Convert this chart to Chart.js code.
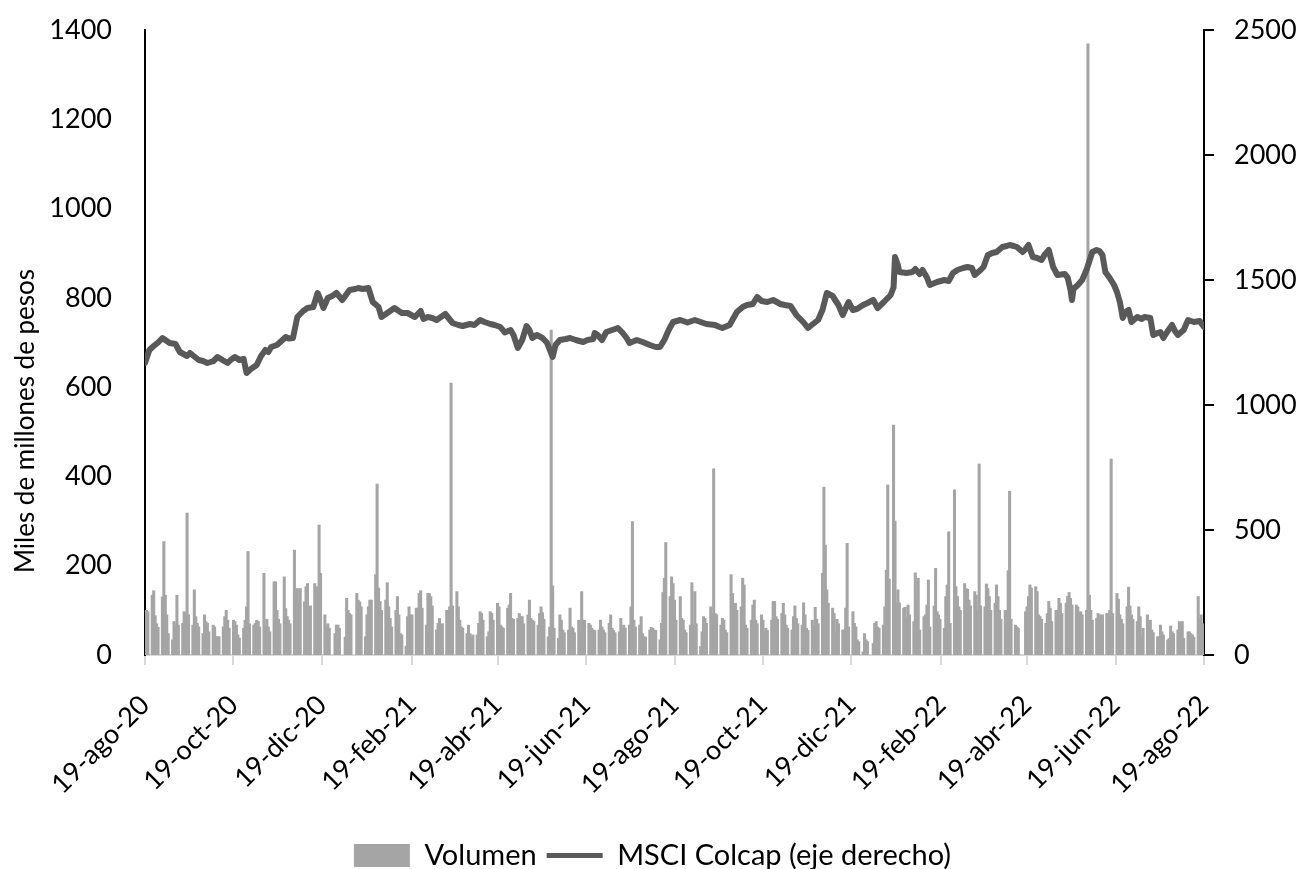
<!DOCTYPE html>
<html lang="es">
<head>
<meta charset="utf-8">
<title>Volumen y MSCI Colcap</title>
<script src="https://cdn.jsdelivr.net/npm/chart.js@4.4.1/dist/chart.umd.min.js"></script>
<style>
  html, body { margin: 0; padding: 0; background: #fff; }
  #wrap { width: 1305px; height: 869px; }
</style>
</head>
<body>
<div id="wrap"><canvas id="chart" width="1305" height="869"></canvas></div>
<script>
// Dates: day offsets counted from 19-ago-20
const startDate = new Date(2020, 7, 19);
const tickDays = [0, 61, 122, 184, 243, 304, 365, 426, 487, 549, 608, 669, 730];
const tickLabels = ['19-ago-20', '19-oct-20', '19-dic-20', '19-feb-21', '19-abr-21', '19-jun-21',
  '19-ago-21', '19-oct-21', '19-dic-21', '19-feb-22', '19-abr-22', '19-jun-22', '19-ago-22'];

// Volumen (miles de millones de pesos), one value per weekday, null = no trading
const volumen = [
  95, 100, 97,
  134, 144, 88, 70, 62,   130, 254, 134, 90, 48,   34, 75, 67, 134, 67,   71, 97, 93, 318, 90,
  67, 146, 86, 71, 63,    48, 90, 75, 71, 52,      67, 63, 41, 41, 41,    63, 86, 100, 78, 60,
  78, 75, 67, 45, 38,     60, 78, 108, 232, 70,    67, 71, 78, 75, 63,    183, 63, 80, 63, 52,
  164, 164, 100, 80, 70,  175, 104, 86, 78, 70,    235, 127, 149, 116, 149, 119, 153, 160, 93, 110,
  160, 149, 153, 291, 183, 90, 63, 70, 60, null,   48, 67, 67, 60, null,   40, 127, 100, 93, 90,
  null, 138, 123, 119, 108, 41, 90, 108, 123, 123, 180, 383, 150, 120, 100, 123, 162, 108, 82, 63,
  100, 131, 90, 48, 45,   20, 86, 108, 90, 90,     105, 105, 138, 144, 105, 67, 138, 138, 131, 110,
  56, 71, 82, 56, 70,     100, 100, 108, 609, 110, 142, 108, 78, 63, 60,  48, 67, 48, 40, 45,
  45, 71, 97, 93, 78,     41, 52, 97, 93, 78,      116, 108, 67, 63, 60,  105, 112, 138, 82, 80,
  82, 93, 86, 86, 70,     90, 123, 82, 78, 75,     67, 93, 108, 95, 80,   41, 63, 728, 155, 60,
  37, 90, 78, 56, 50,     56, 105, 63, 60, 50,     78, 52, 142, 75, 78,   71, 67, 60, 56, 55,
  56, 78, 63, 56, 50,     71, 90, 60, 55, 50,      52, 82, 56, 67, 60,    67, 108, 299, 78, 63,
  67, 86, 48, 41, 40,     56, 62, 60, 56, 55,      34, 71, 140, 172, 252, 131, 175, 160, 123, 78,
  131, 82, 78, 56, 50,    67, 162, 67, 142, 70,    19, 52, 86, 82, 71,    108, 93, 417, 93, 90,
  67, 82, 78, 56, 50,     180, 138, 86, 116, 100,  108, 172, 157, 67, 60, 78, 112, 123, 78, 70,
  90, 78, 52, 60, 55,     78, 120, 120, 86, 80,    93, 116, 90, 67, 60,   56, 86, 110, 82, 70,
  67, 117, 90, 60, 55,    78, 60, 107, 80, 70,     183, 376, 246, 146, 116, 105, 93, 52, 80, 70,
  56, 56, 105, 250, 63,   97, 71, 63, 34, 30,      7, 48, 34, 30, null,   26, 71, 75, 63, 60,
  67, 108, 190, 381, 170, 515, 300, 117, 146, 117, 105, 107, 84, 112, 90, 75, 184, 123, 172, 56,
  86, 90, 112, 168, 63,   110, 194, 97, 90, 80,    60, 131, 157, 276, 71, 370, 153, 131, 108, 100,
  160, 149, 147, 123, 110, 142, 134, 100, 428, 110, 108, 159, 149, 131, 100, 116, 157, 131, 100, 80,
  100, 100, 189, 367, 80, 67, 63, 60, null, null,  97, 108, 131, 157, 150, 153, 142, 90, 86, 80,
  71, 93, 120, 105, 75,   100, 100, 127, 116, 93,  116, 131, 140, 127, 112, 112, 108, 93, 97, 90,
  100, 1369, 134, 100, 78, 82, 93, 90, 75, 90,     93, 93, 100, 439, 93,  138, 125, 90, 80, 70,
  108, 152, 110, 90, 80,  75, 108, 86, 41, 60,     90, 67, 78, 56, 50,    41, 41, 67, 52, 45,
  34, 37, 65, 52, 48,     56, 75, 72, 75, 37,      52, 52, 48, 45, 40,    131, 82, 90, 70, 60
];

// MSCI Colcap (eje derecho), read at these day offsets
const colcapDays = [
  0, 3, 6, 9, 12, 17, 21, 24, 29, 31, 37, 40, 43, 47, 50, 54, 57, 59, 62, 65,
  68, 70, 73, 77, 80, 83, 85, 87, 91, 94, 97, 99, 102, 105, 109, 112, 116, 119, 121, 123,
  126, 129, 132, 136, 141, 145, 147, 150, 154, 157, 161, 163, 167, 172, 177, 181, 186, 190, 192, 195,
  198, 201, 204, 207, 212, 216, 219, 224, 227, 231, 234, 238, 241, 245, 248, 252, 254, 257, 260, 263,
  265, 267, 270, 274, 277, 281, 283, 286, 290, 293, 297, 302, 305, 309, 310, 312, 315, 318, 322, 326,
  329, 332, 334, 339, 343, 348, 352, 355, 358, 361, 364, 369, 374, 379, 383, 387, 393, 396, 398, 403,
  408, 412, 415, 419, 422, 425, 429, 433, 438, 441, 445, 449, 454, 457, 460, 464, 467, 470, 474, 478,
  481, 485, 488, 491, 495, 498, 502, 505, 509, 514, 516, 517, 519, 520, 525, 529, 531, 534, 536, 539,
  541, 546, 551, 554, 557, 560, 564, 567, 570, 572, 576, 578, 581, 584, 587, 591, 594, 596, 599, 601,
  605, 607, 609, 612, 615, 618, 620, 623, 626, 629, 634, 636, 638, 639, 640, 643, 646, 649, 653, 656,
  658, 660, 662, 665, 668, 670, 672, 674, 676, 678, 680, 684, 687, 689, 693, 695, 698, 700, 702, 705,
  708, 710, 712, 716, 719, 723, 727, 730
];
const colcapValues = [
  1168, 1220, 1236, 1250, 1268, 1248, 1244, 1212, 1196, 1208, 1180, 1176, 1168, 1175, 1192, 1178, 1168, 1180, 1192, 1180,
  1184, 1128, 1144, 1160, 1196, 1220, 1212, 1232, 1240, 1256, 1272, 1266, 1268, 1352, 1376, 1388, 1392, 1448, 1420, 1388,
  1428, 1436, 1448, 1420, 1460, 1464, 1468, 1464, 1468, 1412, 1392, 1352, 1368, 1388, 1368, 1368, 1352, 1376, 1344, 1352,
  1348, 1340, 1352, 1364, 1328, 1320, 1316, 1324, 1320, 1340, 1332, 1324, 1320, 1312, 1290, 1300, 1280, 1228, 1260, 1316,
  1300, 1268, 1280, 1268, 1250, 1192, 1240, 1260, 1264, 1268, 1260, 1252, 1260, 1264, 1288, 1280, 1260, 1292, 1300, 1308,
  1290, 1268, 1248, 1260, 1252, 1240, 1232, 1232, 1260, 1300, 1332, 1340, 1330, 1340, 1332, 1324, 1320, 1312, 1308, 1320,
  1372, 1392, 1400, 1404, 1432, 1416, 1412, 1420, 1404, 1400, 1396, 1360, 1330, 1308, 1322, 1340, 1380, 1448, 1436, 1400,
  1360, 1412, 1380, 1385, 1400, 1408, 1420, 1388, 1410, 1440, 1470, 1592, 1560, 1532, 1528, 1532, 1544, 1524, 1540, 1510,
  1480, 1492, 1500, 1496, 1528, 1540, 1548, 1552, 1548, 1520, 1540, 1552, 1600, 1608, 1612, 1632, 1636, 1640, 1636, 1632,
  1612, 1624, 1640, 1592, 1588, 1580, 1600, 1620, 1552, 1520, 1524, 1510, 1460, 1420, 1464, 1480, 1500, 1540, 1612, 1620,
  1616, 1600, 1532, 1508, 1480, 1452, 1412, 1348, 1372, 1380, 1332, 1352, 1344, 1352, 1348, 1280, 1288, 1292, 1268, 1296,
  1320, 1296, 1280, 1300, 1340, 1332, 1336, 1312
];

const yTitleText = 'Miles de millones de pesos';
const FONT = "Lato, 'Open Sans', sans-serif";

// weekday offsets for the volume bars
const tradingDays = [];
for (let d = 0; d <= 730; d++) {
  const dt = new Date(startDate.getFullYear(), startDate.getMonth(), startDate.getDate() + d);
  const wd = dt.getDay();
  if (wd !== 0 && wd !== 6) tradingDays.push(d);
}

const volumeData = tradingDays.map((d, i) => ({ x: d, y: volumen[i] === undefined ? null : volumen[i] }));
const colcapData = colcapDays.map((d, i) => ({ x: d, y: colcapValues[i] }));

// rotated title of the left axis, placed like the original
const yTitlePlugin = {
  id: 'yTitle',
  afterDraw(chart) {
    const ctx = chart.ctx;
    ctx.save();
    ctx.translate(26, 421);
    ctx.rotate(-Math.PI / 2);
    ctx.font = '26px ' + FONT;
    ctx.fillStyle = '#000';
    ctx.textAlign = 'center';
    ctx.textBaseline = 'middle';
    ctx.fillText(yTitleText, 0, 0);
    ctx.restore();
  }
};

// fixed widths, and no extra top/bottom padding from the tick labels
const fixWidth = w => s => { s.width = w; s.paddingTop = 0; s.paddingBottom = 0; };

new Chart(document.getElementById('chart'), {
  type: 'bar',
  data: {
    datasets: [{
      type: 'bar',
      label: 'Volumen',
      data: volumeData,
      yAxisID: 'y',
      backgroundColor: '#a5a5a5',
      borderWidth: 0,
      barThickness: 2.4,
      order: 2
    }, {
      type: 'line',
      label: 'MSCI Colcap (eje derecho)',
      data: colcapData,
      yAxisID: 'y1',
      borderColor: '#595959',
      backgroundColor: '#595959',
      borderWidth: 6,
      borderJoinStyle: 'round',
      borderCapStyle: 'round',
      pointRadius: 0,
      tension: 0,
      order: 1
    }]
  },
  options: {
    responsive: false,
    devicePixelRatio: 1,
    animation: false,
    layout: { padding: { top: 30, left: 0, right: 0, bottom: 0 } },
    scales: {
      x: {
        type: 'linear',
        min: 0,
        max: 730,
        offset: false,
        afterBuildTicks: s => { s.ticks = tickDays.map(v => ({ value: v })); },
        afterFit: s => { s.height = 176; },
        ticks: {
          autoSkip: false,
          maxRotation: 45,
          minRotation: 45,
          padding: 24,
          color: '#000',
          font: { family: FONT, size: 27 },
          callback: (v, i) => tickLabels[i]
        },
        grid: { drawOnChartArea: false, drawTicks: true, tickLength: 10, color: '#d9d9d9', lineWidth: 2, offset: false },
        border: { color: '#d9d9d9', width: 2 }
      },
      y: {
        position: 'left',
        min: 0,
        max: 1400,
        afterFit: fixWidth(145),
        ticks: { stepSize: 200, padding: 33, color: '#000', font: { family: FONT, size: 27 }, callback: v => String(v) },
        grid: { display: false, drawTicks: false },
        border: { display: true, color: '#000', width: 2 }
      },
      y1: {
        position: 'right',
        min: 0,
        max: 2500,
        afterFit: fixWidth(101),
        ticks: { stepSize: 500, padding: 20, color: '#000', font: { family: FONT, size: 27 }, callback: v => String(v) },
        grid: { drawOnChartArea: false, drawTicks: true, tickLength: 10, color: '#000', lineWidth: 2 },
        border: { display: true, color: '#000', width: 2 }
      }
    },
    plugins: {
      tooltip: { enabled: false },
      legend: {
        position: 'bottom',
        maxHeight: 38,
        labels: {
          usePointStyle: true,
          pointStyleWidth: 56,
          boxHeight: 23,
          padding: 10,
          color: '#000',
          font: { family: FONT, size: 29 },
          generateLabels: chart => chart.data.datasets.map((ds, i) => ({
            text: ds.label,
            datasetIndex: i,
            fillStyle: ds.backgroundColor,
            strokeStyle: ds.borderColor || ds.backgroundColor,
            lineWidth: ds.type === 'line' ? 5 : 0,
            pointStyle: ds.type === 'line' ? 'line' : 'rect',
            fontColor: '#000',
            hidden: false
          }))
        }
      }
    }
  },
  plugins: [yTitlePlugin]
});
</script>
</body>
</html>
